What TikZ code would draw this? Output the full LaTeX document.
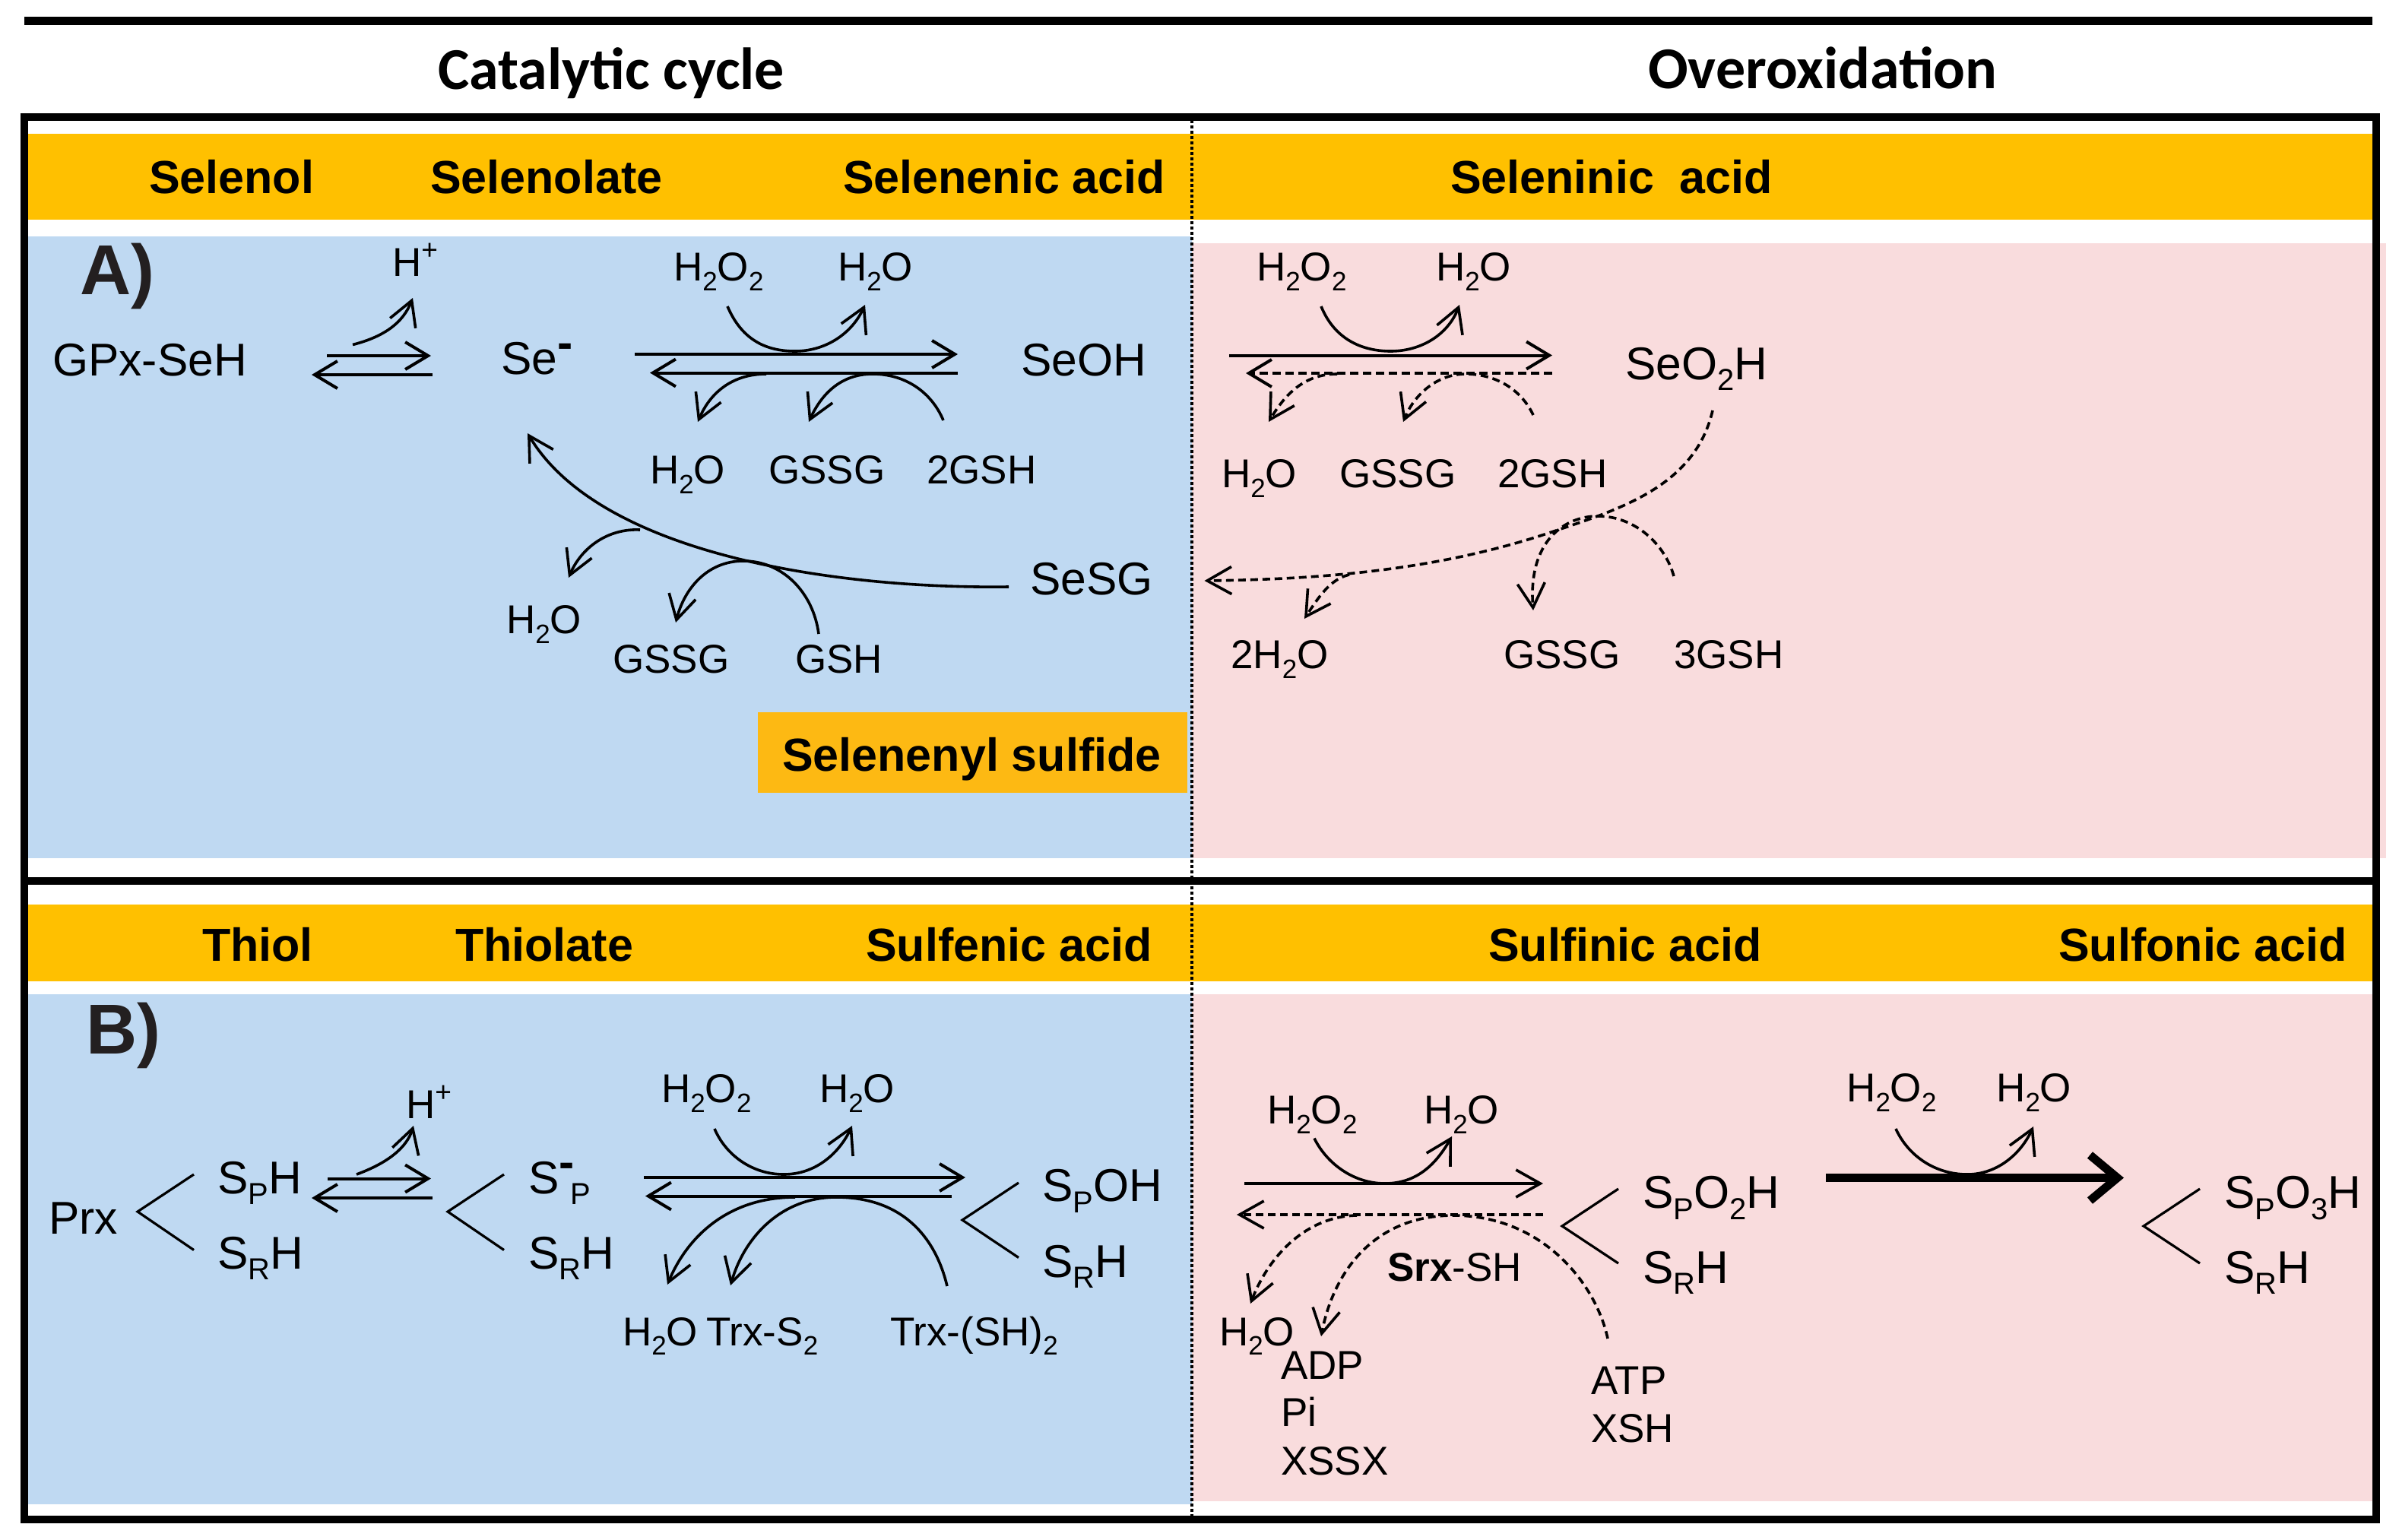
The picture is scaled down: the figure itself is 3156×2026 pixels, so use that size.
\documentclass[tikz,border=0pt]{standalone}
\usepackage{fontspec}
\setmainfont{Liberation Sans}
\newfontfamily\titlefont{Carlito}
\usetikzlibrary{arrows.meta}
\definecolor{bandor}{HTML}{FFC000}
\definecolor{boxor}{HTML}{FDB913}
\definecolor{paleblue}{HTML}{BFD9F2}
\definecolor{palepink}{HTML}{F9DCDD}
\definecolor{inkk}{HTML}{231F20}
\newcommand{\lo}[1]{\raisebox{-.24em}{\scalebox{.66}{#1}}}
\newcommand{\minsup}{\raisebox{.34em}{\bfseries -}}
\tikzset{
  x=1pt,y=-1pt,
  band/.style={fill=bandor,draw=none},
  frameline/.style={line width=10pt,black},
  title/.style={anchor=base west,inner sep=0,font=\titlefont\bfseries\fontsize{78}{82}\selectfont},
  head/.style={anchor=base west,inner sep=0,font=\bfseries\fontsize{61}{64}\selectfont},
  letter/.style={anchor=base west,inner sep=0,text=inkk,xshift=-4pt,yshift=-1pt,font=\bfseries\fontsize{93}{96}\selectfont},
  big/.style={anchor=base west,inner sep=0,xshift=-2pt,yshift=-2pt,font=\fontsize{60.5}{63}\selectfont},
  chem/.style={anchor=base west,inner sep=0,xshift=-2pt,yshift=-1.5pt,font=\fontsize{53}{56}\selectfont},
  rx/.style={line width=4pt,-{Straight Barb[length=30pt,width=36pt,line width=4pt]}},
  rxd/.style={rx,dash pattern=on 11pt off 6pt},
  cur/.style={line width=3.6pt,-{Straight Barb[length=32pt,width=36pt,line width=3.6pt]}},
  curd/.style={cur,dash pattern=on 10pt off 6pt},
  chev/.style={line width=3.2pt,line join=miter},
}
\begin{document}
\begin{tikzpicture}
\useasboundingbox (0,0) rectangle (3156,2026);
% backgrounds
\fill[palepink] (1568,320) rectangle (3139,1129);
\fill[paleblue] (37,311) rectangle (1568,1129);
\fill[palepink] (1568,1308) rectangle (3121,1975);
\fill[paleblue] (37,1308) rectangle (1568,1979);
\fill[band] (37,176) rectangle (3121,289);
\fill[band] (37,1190) rectangle (3121,1291);
\node[fill=boxor,inner sep=0,minimum width=565pt,minimum height=106pt,anchor=north west] (selbox) at (997,937) {};
% frame
\coordinate (t1) at (32,27.5); \coordinate (t2) at (3121,27.5);
\draw[line width=11pt] (t1) -- (t2);
\draw[frameline] (32,154) rectangle (3126,1999);
\draw[frameline] (32,1159) -- (3126,1159);
\coordinate (dv1) at (1568,158); \coordinate (dv2) at (1568,1999);
\draw[line width=3.5pt,dash pattern=on 4pt off 3pt] (dv1) -- (dv2);
% titles and headers
\node[title] (tcat) at (576,117) {Catalytic cycle};
\node[title] (tover) at (2168,116) {Overoxidation};
\node[head] (h1) at (196,254) {Selenol};
\node[head] (h2) at (566,254) {Selenolate};
\node[head] (h3) at (1109,254) {Selenenic acid};
\node[head] (h4) at (1908,254) {Seleninic\ \ acid};
\node[head] (h5) at (1029,1014) {Selenenyl sulfide};
\node[head] (h6) at (266,1264) {Thiol};
\node[head] (h7) at (599,1264) {Thiolate};
\node[head] (h8) at (1139,1264) {Sulfenic acid};
\node[head] (h9) at (1958,1264) {Sulfinic acid};
\node[head] (h10) at (2708,1264) {Sulfonic acid};
\node[letter] (la) at (109,386) {A)};
\node[letter] (lb) at (117,1385) {B)};
% panel A labels
\node[big] (gpx) at (71,492) {GPx-SeH};
\node[big] (sem) at (661,490) {Se\minsup};
\node[big] (seoh) at (1345,492) {SeOH};
\node[big] (sesg) at (1357,780) {SeSG};
\node[big] (seo2h) at (2140,497) {SeO\lo{2}H};
\node[chem] (ahp) at (518,362) {H\raisebox{.42em}{\scalebox{.7}{+}}};
\node[chem] (a1) at (888,368) {H\lo{2}O\lo{2}};
\node[chem] (a2) at (1104,368) {H\lo{2}O};
\node[chem] (a3) at (857,635) {H\lo{2}O};
\node[chem] (a4) at (1013,635) {GSSG};
\node[chem] (a5) at (1221,635) {2GSH};
\node[chem] (a6) at (668,832) {H\lo{2}O};
\node[chem] (a7) at (808,884) {GSSG};
\node[chem] (a8) at (1048,884) {GSH};
\node[chem] (a9) at (1655,368) {H\lo{2}O\lo{2}};
\node[chem] (a10) at (1891,368) {H\lo{2}O};
\node[chem] (a11) at (1609,640) {H\lo{2}O};
\node[chem] (a12) at (1764,640) {GSSG};
\node[chem] (a13) at (1972,640) {2GSH};
\node[chem] (a14) at (1621,878) {2H\lo{2}O};
\node[chem] (a15) at (1980,878) {GSSG};
\node[chem] (a16) at (2204,878) {3GSH};
% panel B labels
\node[big] (prx) at (66,1621) {Prx};
\node[big] (b1) at (288,1568) {S\lo{P}H};
\node[big] (b2) at (288,1667) {S\lo{R}H};
\node[big] (b3) at (697,1568) {S\minsup\hspace{-.08em}\lo{P}};
\node[big] (b4) at (697,1667) {S\lo{R}H};
\node[big] (b5) at (1373,1578.5) {S\lo{P}OH};
\node[big] (b6) at (1373,1678) {S\lo{R}H};
\node[big] (b7) at (2163,1587.5) {S\lo{P}O\lo{2}H};
\node[big] (b8) at (2163,1686) {S\lo{R}H};
\node[big] (b9) at (2928,1587.5) {S\lo{P}O\lo{3}H};
\node[big] (b10) at (2928,1686) {S\lo{R}H};
\node[chem] (bhp) at (536,1470) {H\raisebox{.42em}{\scalebox{.7}{+}}};
\node[chem] (c1) at (872,1449) {H\lo{2}O\lo{2}};
\node[chem] (c2) at (1080,1449) {H\lo{2}O};
\node[chem] (c3) at (821,1768.5) {H\lo{2}O};
\node[chem] (c4) at (931,1768.5) {Trx-S\lo{2}};
\node[chem] (c5) at (1173,1768.5) {Trx-(SH)\lo{2}};
\node[chem] (c6) at (1669,1477) {H\lo{2}O\lo{2}};
\node[chem] (c7) at (1875,1477) {H\lo{2}O};
\node[chem] (c8) at (2431,1448) {H\lo{2}O\lo{2}};
\node[chem] (c9) at (2628,1448) {H\lo{2}O};
\node[chem] (c10) at (1827,1683.5) {\textbf{Srx}-SH};
\node[chem] (c11) at (1606,1768.5) {H\lo{2}O};
\node[chem] (c12) at (1687,1813) {ADP};
\node[chem] (c13) at (1687,1875) {Pi};
\node[chem] (c14) at (1687,1939) {XSSX};
\node[chem] (c15) at (2095,1833) {ATP};
\node[chem] (c16) at (2095,1896) {XSH};
% connector end points
\foreach \n/\x/\y in {
 ea1/430/468,ea2/567/468,ea3/569/493,ea4/410/493,
 hp1/464/453.5,hp2/543/392,
 fa1/835/466,fa2/1260/466,fa3/1260/490.5,fa4/855/490.5,
 ua1/957/403,ua2/1046/462,ua3/1138/401,
 la1/1008/492,la2/918/555,
 ra1/1241/553,ra2/1148/492,ra3/1064/555,
 big1/1327/772,big2/694/570,
 lb1/842/697,lb2/748/760,
 rb1/1077/834,rb2/978/738,rb3/889/819,
 fo1/1617/467.5,fo2/2042/467.5,fo3/2042/491,fo4/1639/491,
 uo1/1738/403,uo2/1829.5/462,uo3/1920/401,
 lo1/1759/492,lo2/1669/555,
 ro1/2017/546,ro2/1928/492,ro3/1846/555,
 bo1/2253/540,bo2/2044/699,bo3/1584.5/764,
 mo1/1775/756,mo2/1716/814,
 no1/2202/758,no2/2102/679,no3/2017/803,
 ch1a/255/1545,ch1b/181/1594,ch1c/255/1644.5,
 ch2a/663/1545,ch2b/589/1594,ch2c/663/1644.5,
 ch3a/1340/1556,ch3b/1266/1605,ch3c/1340/1654.5,
 ch4a/2129/1564,ch4b/2055/1613,ch4c/2129/1662,
 ch5a/2894/1564,ch5b/2820/1613,ch5c/2894/1662,
 eb1/431/1550.5,eb2/567/1550.5,eb3/569/1576,eb4/410/1576,
 hq1/469/1545,hq2/544/1481,
 fb1/847/1549,fb2/1270/1549,fb3/1252/1573.5,fb4/849/1573.5,
 ub1/940/1485,ub2/1031/1545,ub3/1121/1481,
 lc1/1046/1575,lc2/878/1690,
 rc1/1246/1692,rc2/1100/1575,rc3/961/1691,
 fs1/1637/1557,fs2/2030/1557,fs3/2030/1598,fs4/1627/1598,
 us1/1729/1497.5,us2/1822/1557,us3/1910/1495,
 ls1/1785/1599,ls2/1645/1715,
 rs1/2115/1761,rs2/1912/1599,rs3/1738/1758,
 th1/2402/1549.5,th2/2794/1549.5,
 ut1/2494/1485,ut2/2588/1545,ut3/2675/1482}
 {\coordinate (\n) at (\x,\y);}
% panel A, catalytic
\draw[rx] (ea1) -- (ea2);
\draw[rx] (ea3) -- (ea4);
\draw[cur] (hp1) .. controls (505,443) and (530,425) .. (hp2);
\draw[rx] (fa1) -- (fa2);
\draw[rx] (fa3) -- (fa4);
\draw[cur] (ua1) .. controls (975,445) and (1005,462) .. (ua2) .. controls (1085,462) and (1120,440) .. (ua3);
\draw[cur] (la1) .. controls (965,492) and (935,515) .. (la2);
\draw[cur] (ra1) .. controls (1225,515) and (1190,492) .. (ra2) .. controls (1105,492) and (1080,520) .. (ra3);
\draw[cur] (big1) .. controls (1100,775) and (790,730) .. (big2);
\draw[cur] (lb1) .. controls (800,695) and (765,720) .. (lb2);
\draw[cur] (rb1) .. controls (1070,780) and (1030,738) .. (rb2) .. controls (930,738) and (900,775) .. (rb3);
% panel A, overoxidation
\draw[rx] (fo1) -- (fo2);
\draw[rxd] (fo3) -- (fo4);
\draw[cur] (uo1) .. controls (1755,445) and (1790,462) .. (uo2) .. controls (1870,462) and (1905,440) .. (uo3);
\draw[curd] (lo1) .. controls (1715,492) and (1690,520) .. (lo2);
\draw[curd] (ro1) .. controls (2000,510) and (1965,492) .. (ro2) .. controls (1890,492) and (1860,520) .. (ro3);
\draw[curd] (bo1) .. controls (2230,640) and (2130,670) .. (bo2) .. controls (1900,748) and (1750,762) .. (bo3);
\draw[curd] (mo1) .. controls (1750,762) and (1735,785) .. (mo2);
\draw[curd] (no1) .. controls (2190,715) and (2150,679) .. (no2) .. controls (2060,679) and (2010,710) .. (no3);
% panel B, catalytic
\draw[chev] (ch1a) -- (ch1b) -- (ch1c);
\draw[chev] (ch2a) -- (ch2b) -- (ch2c);
\draw[chev] (ch3a) -- (ch3b) -- (ch3c);
\draw[rx] (eb1) -- (eb2);
\draw[rx] (eb3) -- (eb4);
\draw[cur] (hq1) .. controls (510,1530) and (535,1510) .. (hq2);
\draw[rx] (fb1) -- (fb2);
\draw[rx] (fb3) -- (fb4);
\draw[cur] (ub1) .. controls (955,1520) and (990,1545) .. (ub2) .. controls (1075,1545) and (1105,1515) .. (ub3);
\draw[cur] (lc1) .. controls (960,1575) and (905,1625) .. (lc2);
\draw[cur] (rc1) .. controls (1230,1625) and (1185,1575) .. (rc2) .. controls (1030,1575) and (980,1625) .. (rc3);
% panel B, overoxidation
\draw[chev] (ch4a) -- (ch4b) -- (ch4c);
\draw[chev] (ch5a) -- (ch5b) -- (ch5c);
\draw[cur] (fs1) -- (fs2);
\draw[curd] (fs3) -- (fs4);
\draw[cur] (us1) .. controls (1745,1530) and (1780,1557) .. (us2) .. controls (1865,1557) and (1890,1530) .. (us3);
\draw[curd] (ls1) .. controls (1720,1600) and (1670,1650) .. (ls2);
\draw[curd] (rs1) .. controls (2100,1690) and (2030,1599) .. (rs2) .. controls (1810,1599) and (1755,1670) .. (rs3);
\draw[line width=11pt,-{Straight Barb[length=36pt,width=60pt,line width=11pt]}] (th1) -- (th2);
\draw[cur] (ut1) .. controls (2510,1520) and (2545,1545) .. (ut2) .. controls (2630,1545) and (2660,1515) .. (ut3);
\end{tikzpicture}
\end{document}
